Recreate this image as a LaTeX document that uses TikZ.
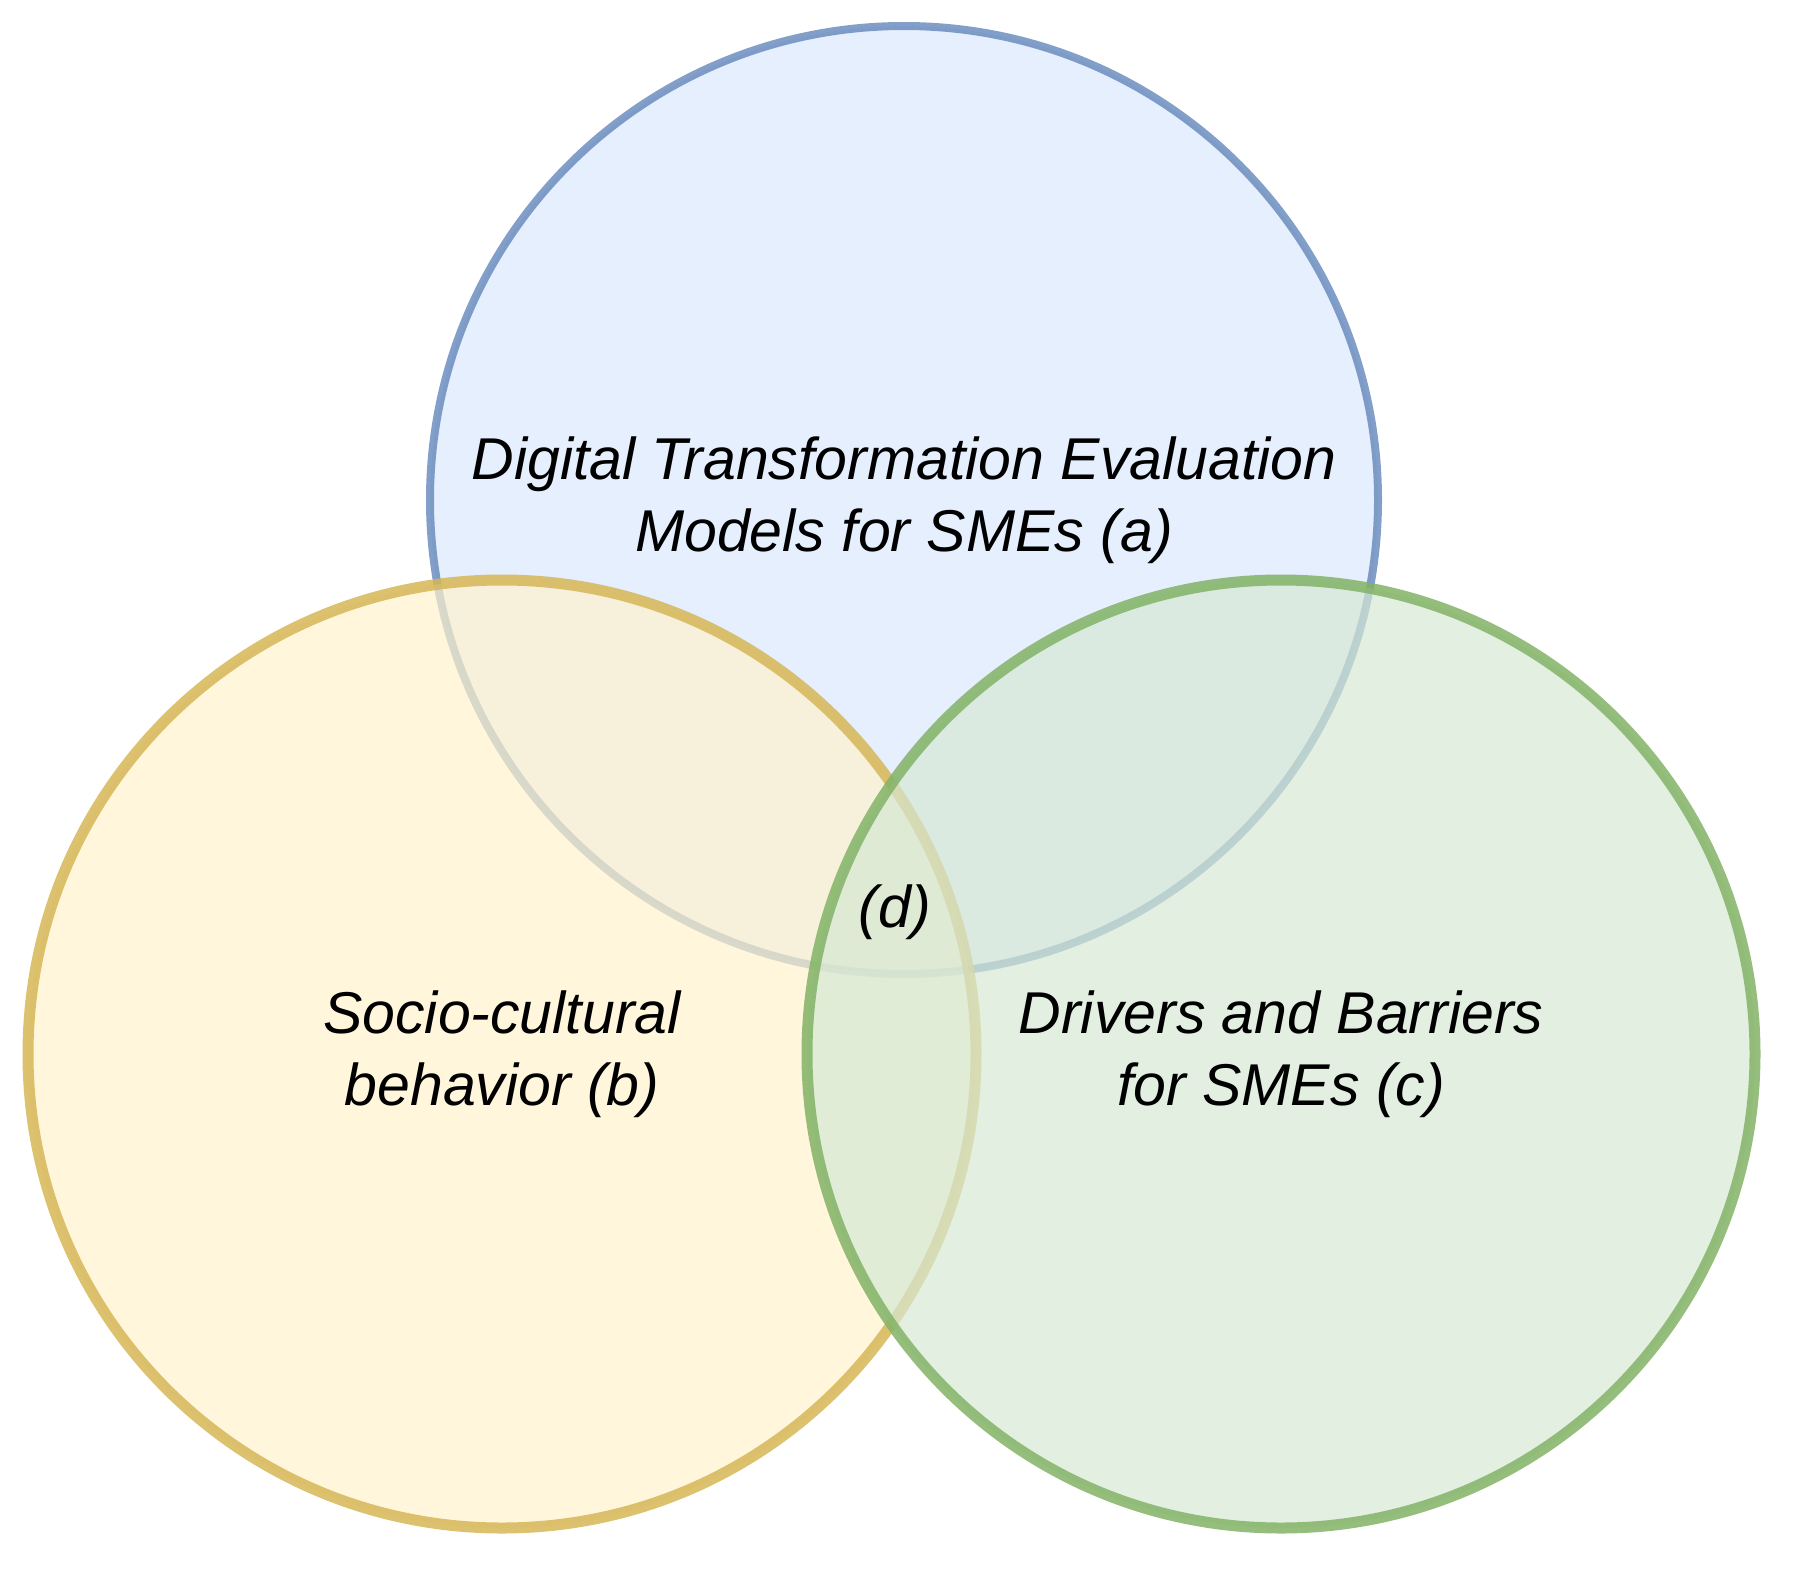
\documentclass[tikz,border=0pt]{standalone}
\usepackage{fontspec}
\setmainfont{Liberation Sans}
\definecolor{bluefill}{HTML}{DAE8FC}
\definecolor{blueline}{HTML}{6C8EBF}
\definecolor{yellowfill}{HTML}{FFF2CC}
\definecolor{yellowline}{HTML}{D6B656}
\definecolor{greenfill}{HTML}{D5E8D4}
\definecolor{greenline}{HTML}{82B366}
\begin{document}
\begin{tikzpicture}[x=0.5pt,y=-0.5pt,
  set node/.style={circle,minimum size=474pt,inner sep=0pt,fill opacity=0.7,draw opacity=0.85},
  label node/.style={align=center,font=\fontsize{29.5}{36}\selectfont\itshape}]
  \useasboundingbox (0,0) rectangle (1794,1569);
  % the three sets
  \node[set node,draw=blueline,fill=bluefill,line width=4pt] (a) at (904,500) {};
  \node[set node,draw=yellowline,fill=yellowfill,line width=5.5pt] (b) at (502,1054) {};
  \node[set node,draw=greenline,fill=greenfill,line width=5.5pt] (c) at (1281,1054) {};

  % labels
  \node[label node] (atext) at (a.center) {Digital Transformation Evaluation\\Models for SMEs (a)};
  \node[label node] (btext) at (b.center) {Socio-cultural\\behavior (b)};
  \node[label node] (ctext) at (c.center) {Drivers and Barriers\\for SMEs (c)};
  \node[label node] (dtext) at (895,912) {(d)};
\end{tikzpicture}
\end{document}
